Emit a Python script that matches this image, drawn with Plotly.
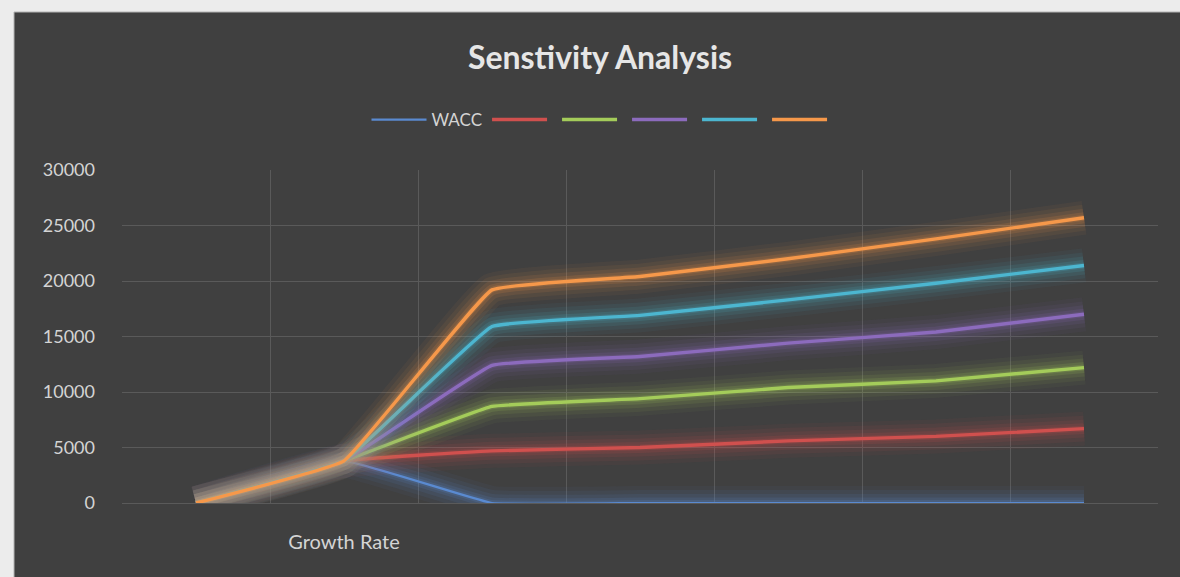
import plotly.graph_objects as go

# Category positions along the x axis and their labels
categories = ["c1", "c2", "c3", "c4", "c5", "c6", "c7"]
category_labels = ["", "Growth Rate", "", "", "", "", ""]

# Series values (one list per scenario line)
wacc = [0, 3800, 0, 0, 0, 0, 0]
series_red = [0, 3800, 4700, 5000, 5600, 6000, 6700]
series_green = [0, 3800, 8700, 9400, 10400, 11000, 12200]
series_purple = [0, 3800, 12400, 13200, 14400, 15400, 17000]
series_cyan = [0, 3800, 15900, 16900, 18300, 19800, 21400]
series_orange = [0, 3800, 19200, 20400, 22000, 23800, 25700]

series_names = ["WACC", "", "", "", "", ""]
series_values = [wacc, series_red, series_green, series_purple, series_cyan, series_orange]
series_colors = ["#5a8ad0", "#d0504e", "#a4cc5a", "#8c6bbd", "#4cb6d0", "#f6984a"]
series_rgb = [(90, 138, 208), (208, 80, 78), (164, 204, 90), (140, 107, 189), (76, 182, 208), (246, 152, 74)]
line_widths = [2.2, 3.4, 3.4, 3.4, 3.4, 3.4]

y_ticks = [0, 5000, 10000, 15000, 20000, 25000, 30000]

W, H = 1180, 577
fig = go.Figure()

for i, (name, vals, col, rgb, lw) in enumerate(
        zip(series_names, series_values, series_colors, series_rgb, line_widths)):
    # soft glow drawn as stacked translucent strokes
    for gw, op in [(34, 0.05), (26, 0.07), (18, 0.10), (11, 0.14), (6, 0.18)]:
        fig.add_trace(go.Scatter(
            x=categories, y=vals, mode="lines",
            line=dict(color=f"rgba({rgb[0]},{rgb[1]},{rgb[2]},{op})", width=gw,
                      shape="spline", smoothing=0.25),
            showlegend=False, hoverinfo="skip", cliponaxis=False))
    fig.add_trace(go.Scatter(
        x=categories, y=vals, mode="lines", name=name,
        line=dict(color=col, width=lw, shape="spline", smoothing=0.25),
        showlegend=True, cliponaxis=False))

fig.update_layout(
    width=W, height=H,
    margin=dict(l=0, r=0, t=0, b=0, autoexpand=False),
    paper_bgcolor="#ececec",
    plot_bgcolor="rgba(0,0,0,0)",
    font=dict(family="Lato", color="#d4d4d4"),
    title=dict(text="<b>Senstivity Analysis</b>", x=600 / W, xanchor="center",
               y=1 - 58 / H, yanchor="middle", automargin=False,
               font=dict(family="Lato", size=32, color="#e6e6e6")),
    legend=dict(orientation="h", x=602 / W, xanchor="center",
                y=1 - 120 / H, yanchor="middle",
                font=dict(size=17, color="#d4d4d4"),
                bgcolor="rgba(0,0,0,0)", itemwidth=55, traceorder="normal"),
    shapes=[dict(type="rect", xref="paper", yref="paper",
                 x0=14 / W, x1=1.01, y0=-0.01, y1=1 - 12 / H,
                 fillcolor="#404040", line=dict(color="#b4b4b4", width=1),
                 layer="below")],
    xaxis=dict(type="category", domain=[122 / W, 1158 / W], range=[-0.5, 6.5],
               tickmode="array", tickvals=categories, ticktext=category_labels,
               tickson="boundaries", showgrid=True, gridcolor="#5a5a5a", gridwidth=1,
               showline=False, ticks="", ticklabelstandoff=25, automargin=False,
               tickfont=dict(size=20, color="#d4d4d4"), zeroline=False),
    yaxis=dict(range=[0, 30000], domain=[1 - 503 / H, 1 - 170 / H],
               tickvals=y_ticks, ticktext=[str(v) for v in y_ticks],
               showgrid=True, gridcolor="#5a5a5a", gridwidth=1,
               zeroline=True, zerolinecolor="#5a5a5a", zerolinewidth=1,
               showline=False, ticks="", ticklabelstandoff=26, automargin=False,
               tickfont=dict(size=18, color="#d4d4d4")),
)

fig.write_html("out.html")
